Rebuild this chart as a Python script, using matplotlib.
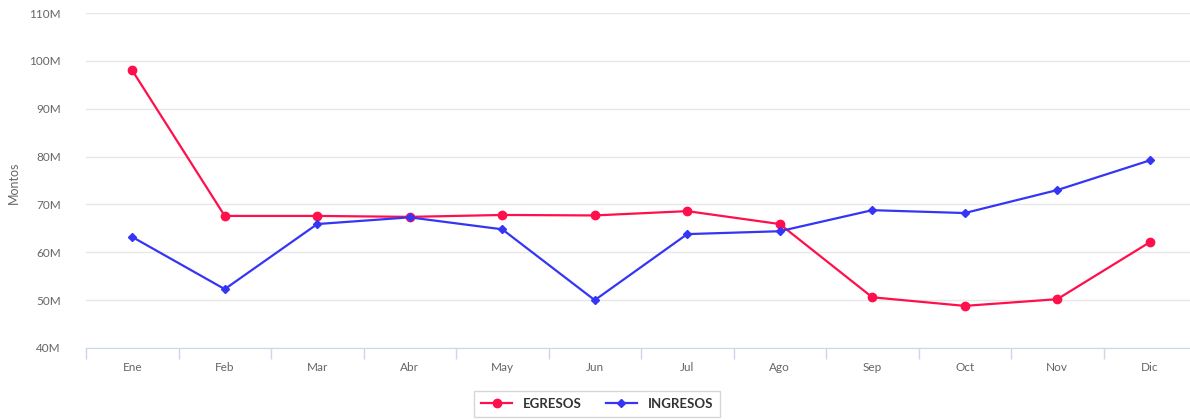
import numpy as np
import matplotlib.pyplot as plt
from matplotlib.ticker import FuncFormatter, FixedLocator

# Datos mensuales (millones)
meses = ["Ene", "Feb", "Mar", "Abr", "May", "Jun", "Jul", "Ago", "Sep", "Oct", "Nov", "Dic"]
egresos = [98.0, 67.6, 67.6, 67.4, 67.8, 67.7, 68.6, 65.9, 50.6, 48.8, 50.2, 62.1]
ingresos = [63.2, 52.3, 65.9, 67.3, 64.8, 50.0, 63.8, 64.4, 68.8, 68.2, 73.0, 79.2]

plt.rcParams['font.family'] = ['Lato', 'DejaVu Sans']

fig = plt.figure(figsize=(11.9, 4.2), dpi=100)
ax = fig.add_axes([86/1190, 1 - 348/420, 1110/1190, 335/420])

x = np.arange(len(meses))
ax.plot(x, egresos, color='#ff0f4b', lw=1.6, marker='o', ms=6, label='EGRESOS', zorder=3)
ax.plot(x, ingresos, color='#3535f5', lw=1.6, marker='D', ms=4, label='INGRESOS', zorder=3)

ax.set_xlim(-0.5, 11.5)
ax.set_ylim(40, 110)
ax.set_yticks(np.arange(40, 111, 10))
ax.yaxis.set_major_formatter(FuncFormatter(lambda v, p: f"{int(v)}M"))
ax.grid(axis='y', color='#e8e8e8', lw=1)
ax.set_axisbelow(True)

ax.set_xticks(x)
ax.set_xticklabels(meses)
ax.xaxis.set_minor_locator(FixedLocator(np.arange(-0.5, 12, 1)))
ax.tick_params(axis='x', which='major', length=0, pad=10, labelsize=8.5, labelcolor='#666666')
ax.tick_params(axis='x', which='minor', length=8, color='#ccd6eb', width=1)
ax.tick_params(axis='y', length=0, pad=18, labelsize=8.5, labelcolor='#666666')

for s in ['top', 'right', 'left']:
    ax.spines[s].set_visible(False)
ax.spines['bottom'].set_color('#ccd6eb')

fig.text(14/1190, 1 - 183/420, "Montos", rotation=90, ha='center', va='center',
         fontsize=9, color='#666666')

leg = fig.legend(loc='center', bbox_to_anchor=(597/1190, 1 - 404/420), ncol=2,
                 frameon=True, fontsize=9.5, handlelength=2.4, columnspacing=1.8,
                 borderpad=0.5, borderaxespad=0, fancybox=False)
leg.get_frame().set_edgecolor('#cccccc')
for t in leg.get_texts():
    t.set_fontweight('bold')
    t.set_color('#333333')

fig.savefig('out.png', dpi=100)
